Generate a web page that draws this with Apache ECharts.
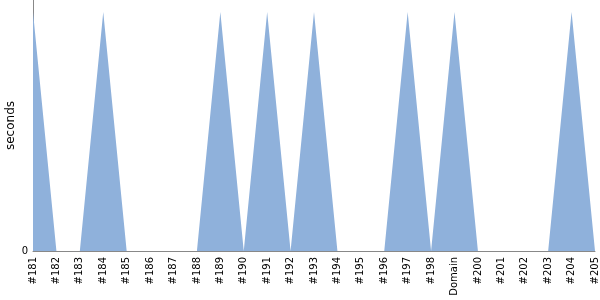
<!DOCTYPE html>
<html><head><meta charset="utf-8">
<script src="https://cdn.jsdelivr.net/npm/echarts@6/dist/echarts.min.js"></script>
<style>html,body{margin:0;padding:0;background:#fff}#c{width:600px;height:300px}</style>
</head><body><div id="c"></div>
<script>
const categories = ['#181','#182','#183','#184','#185','#186','#187','#188','#189','#190','#191','#192','#193','#194','#195','#196','#197','#198','Domain','#200','#201','#202','#203','#204','#205'];
const seconds = [1,0,0,1,0,0,0,0,1,0,1,0,1,0,0,0,1,0,1,0,0,0,0,1,0];
const yTickLabels = ['0'];
const chart = echarts.init(document.getElementById('c'), null, {renderer:'canvas'});
chart.setOption({
  animation:false,
  grid:{left:33,right:5,top:0,bottom:49,containLabel:false,outerBoundsMode:'none'},
  xAxis:{type:'category',data:categories,boundaryGap:false,
    axisLine:{lineStyle:{color:'#888'}},axisTick:{show:false},
    axisLabel:{rotate:90,interval:0,color:'#000',fontSize:10,fontFamily:'DejaVu Sans',margin:6}},
  yAxis:{type:'value',min:0,max:1.05,interval:1.05,name:'seconds',nameLocation:'middle',nameGap:16,nameMoveOverlap:false,
    nameTextStyle:{color:'#000',fontSize:12,fontFamily:'DejaVu Sans'},
    axisLine:{show:true,lineStyle:{color:'#888'}},axisTick:{show:false},splitLine:{show:false},
    axisLabel:{color:'#000',fontSize:10,fontFamily:'DejaVu Sans',margin:5,formatter:v=>yTickLabels.includes(String(v))?String(v):''}},
  series:[{type:'line',data:seconds,symbol:'none',lineStyle:{width:0},areaStyle:{color:'#8fb1db',opacity:1}}]
});
</script></body></html>
